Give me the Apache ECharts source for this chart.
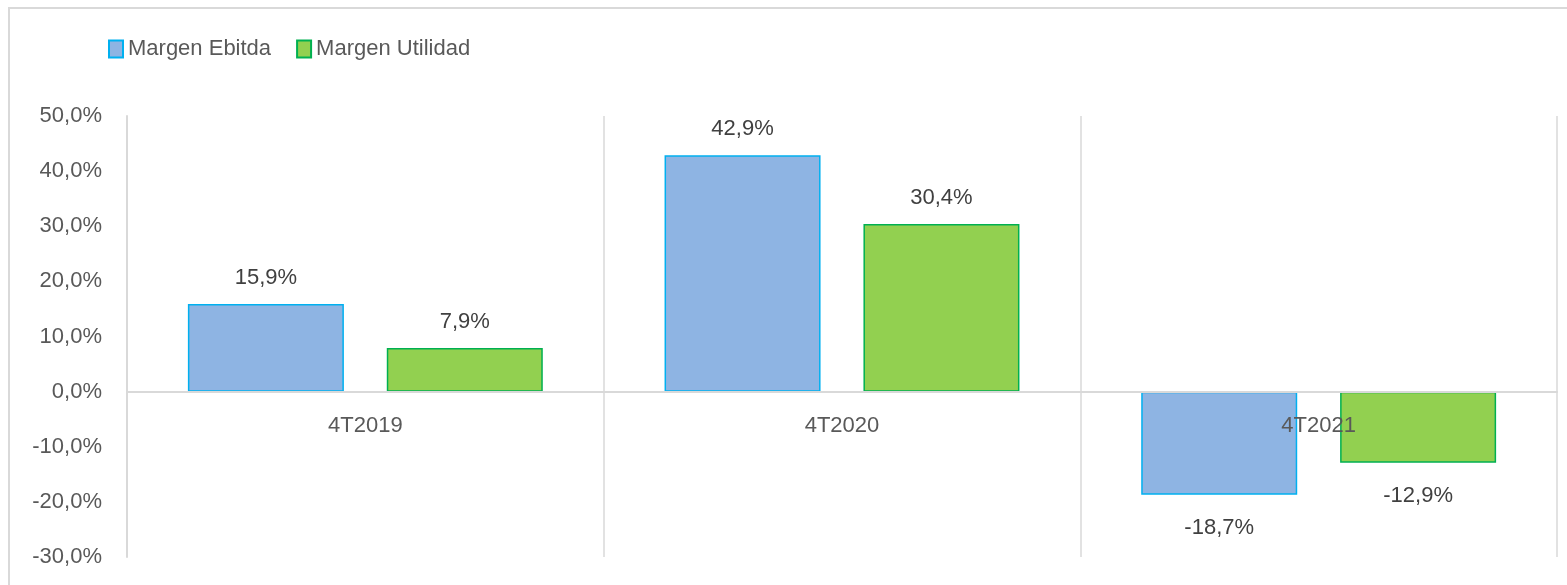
<!DOCTYPE html>
<html>
<head>
<meta charset="utf-8">
<script src="https://cdn.jsdelivr.net/npm/echarts@6/dist/echarts.min.js"></script>
<style>
  html, body { margin: 0; padding: 0; background: #fff; }
  #chart { width: 1567px; height: 585px; }
</style>
</head>
<body>
<div id="chart"></div>
<script>
// data (percent)
var categories = ['4T2019', '4T2020', '4T2021'];
var seriesNames = ['Margen Ebitda', 'Margen Utilidad'];
var ebitda = [15.9, 42.9, -18.7];
var utilidad = [7.9, 30.4, -12.9];

var FONT = '"Liberation Sans", Arial, sans-serif';

function pct(v) {
    return v.toFixed(1).replace('.', ',') + '%';
}

function labelOpt() {
    return {
        show: true,
        position: 'top',
        distance: 15,
        color: '#404040',
        fontFamily: FONT,
        fontSize: 22,
        formatter: function (p) { return pct(p.value); }
    };
}

function makeData(values) {
    return values.map(function (v) {
        return v < 0 ? { value: v, label: { position: 'bottom', distance: 22 } } : v;
    });
}

// plot area
var gridTop = 116, gridBottom = 557;
var yMin = -30, yMax = 50;
var zeroY = gridTop + (gridBottom - gridTop) * yMax / (yMax - yMin);

var chart = echarts.init(document.getElementById('chart'));
var option = {
    animation: false,
    backgroundColor: '#fff',
    graphic: [{
        type: 'rect',
        shape: { x: 9, y: 8, width: 1600, height: 620 },
        style: { fill: 'none', stroke: '#D9D9D9', lineWidth: 2 },
        silent: true
    }],
    legend: {
        left: 103,
        top: 33,
        itemWidth: 14,
        itemHeight: 17,
        itemGap: 25,
        icon: 'rect',
        textStyle: { color: '#595959', fontFamily: FONT, fontSize: 22 },
        data: seriesNames
    },
    grid: {
        left: 127, right: 10, top: gridTop, bottom: 585 - gridBottom,
        containLabel: false, outerBoundsMode: 'none'
    },
    xAxis: [{
        type: 'category',
        data: categories,
        axisLine: { show: false },
        axisTick: { show: false },
        axisLabel: { show: false },
        splitLine: { show: true, lineStyle: { color: '#D9D9D9', width: 1.5 } }
    }, {
        type: 'category',
        data: categories,
        position: 'bottom',
        offset: -(gridBottom - zeroY),
        z: 10,
        axisLine: { onZero: false, lineStyle: { color: '#D9D9D9', width: 2 } },
        axisTick: { show: false },
        axisLabel: { color: '#595959', fontFamily: FONT, fontSize: 22, margin: 23 },
        splitLine: { show: false }
    }],
    yAxis: {
        type: 'value',
        min: yMin,
        max: yMax,
        interval: 10,
        axisLine: { show: true, lineStyle: { color: '#D9D9D9', width: 2 } },
        axisTick: { show: false },
        splitLine: { show: false },
        axisLabel: {
            color: '#595959', fontFamily: FONT, fontSize: 22, margin: 25,
            formatter: function (v) { return pct(v); }
        }
    },
    series: [{
        name: seriesNames[0],
        type: 'bar',
        barWidth: 156,
        barGap: '27.5%',
        itemStyle: { color: '#8EB4E3', borderColor: '#00B0F0', borderWidth: 1.5 },
        label: labelOpt(),
        data: makeData(ebitda)
    }, {
        name: seriesNames[1],
        type: 'bar',
        barWidth: 156,
        barGap: '27.5%',
        itemStyle: { color: '#92D050', borderColor: '#00B050', borderWidth: 1.5 },
        label: labelOpt(),
        data: makeData(utilidad)
    }]
};
chart.setOption(option);
window.onresize = chart.resize;
</script>
</body>
</html>
